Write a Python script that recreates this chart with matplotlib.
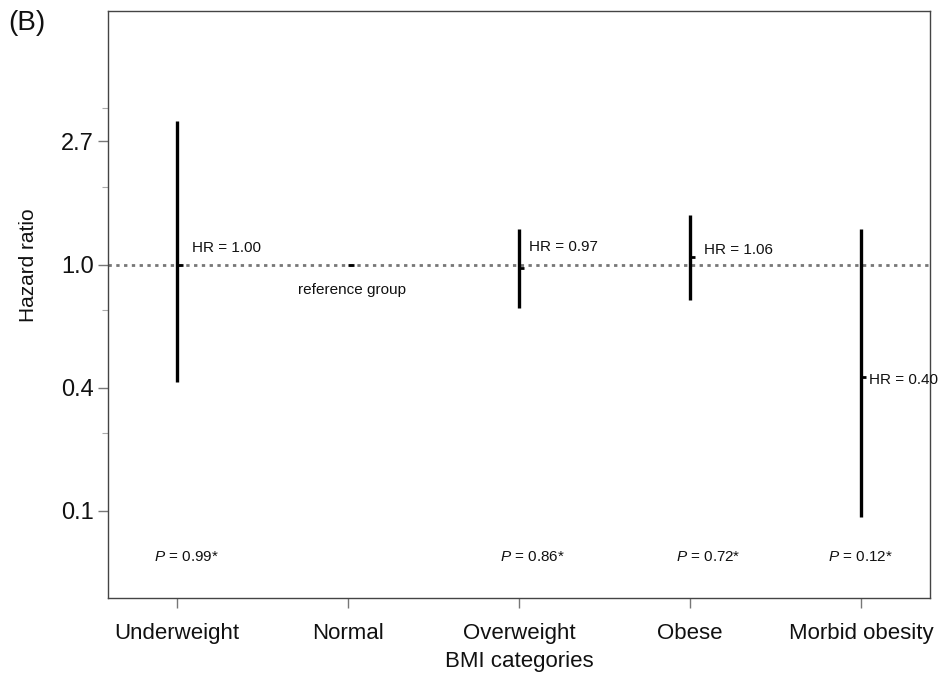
import numpy as np
import matplotlib
matplotlib.use("Agg")
import matplotlib.pyplot as plt
from matplotlib.ticker import FixedLocator, NullFormatter

plt.rcParams["font.family"] = ["Liberation Sans", "DejaVu Sans"]
plt.rcParams["mathtext.fontset"] = "custom"
plt.rcParams["mathtext.it"] = "Liberation Sans:italic"
plt.rcParams["mathtext.rm"] = "Liberation Sans"

# data
categories = ["Underweight", "Normal", "Overweight", "Obese", "Morbid obesity"]
hr = [1.00, 1.00, 0.97, 1.06, 0.40]
ci_low = [0.386, 1.00, 0.703, 0.75, 0.128]
ci_high = [3.20, 1.00, 1.33, 1.49, 1.33]
hr_text = ["HR = 1.00", "reference group", "HR = 0.97", "HR = 1.06", "HR = 0.40"]
p_text = ["0.99*", None, "0.86*", "0.72*", "0.12*"]

# y axis is ln(HR); ticks at e^-2 .. e^1
ytick_vals = np.exp([-2, -1, 0, 1])
ytick_labels = ["0.1", "0.4", "1.0", "2.7"]
yminor_vals = np.exp([-1.37, -0.37, 0.63, 1.27])


def main():
    fig = plt.figure(figsize=(9.4, 6.76), dpi=100)
    ax = fig.add_axes([0.1149, 0.1154, 0.8745, 0.8683])

    x = np.arange(1, len(categories) + 1)

    ax.axhline(1.0, color="#777777", lw=2.0, ls=(0, (1.2, 1.6)), zorder=1)

    ax.vlines(x, ci_low, ci_high, color="black", lw=2.4, zorder=3)
    # small point tick to the right of each bar
    ax.hlines(hr, x, x + 0.032, color="black", lw=2.0, zorder=3)

    # label offsets (points) for the HR annotations
    offs = [(10.8, 12.2, "left"), (3, -18, "center"), (7.2, 15, "left"),
            (10, 5, "left"), (5.8, -2, "left")]
    for xi, h, t, (dx, dy, ha) in zip(x, hr, hr_text, offs):
        ax.annotate(t, xy=(xi, h), xytext=(dx, dy), textcoords="offset points",
                    ha=ha, va="center", fontsize=11, color="#111111")

    p_offs = [6.5, 0, 9.4, 13, -0.7]
    for xi, p, dx in zip(x, p_text, p_offs):
        if p is None:
            continue
        ax.annotate(r"$\it{P}$ = " + p, xy=(xi, 0.07),
                    xycoords=("data", "axes fraction"),
                    xytext=(dx, 0), textcoords="offset points",
                    ha="center", va="center", fontsize=11, color="#111111")

    ax.set_yscale("log")
    ax.set_ylim(np.exp(-2.71), np.exp(2.06))
    ax.set_xlim(0.596, 5.404)
    ax.yaxis.set_major_locator(FixedLocator(ytick_vals))
    ax.set_yticklabels(ytick_labels)
    ax.yaxis.set_minor_locator(FixedLocator(yminor_vals))
    ax.yaxis.set_minor_formatter(NullFormatter())

    ax.set_xticks(x)
    ax.set_xticklabels(categories)

    ax.tick_params(axis="y", which="major", length=7, width=1.0,
                   color="#777777", labelsize=17, pad=3, labelcolor="#111111")
    ax.tick_params(axis="y", which="minor", length=4, width=0.8,
                   color="#aaaaaa")
    ax.tick_params(axis="x", which="major", length=7, width=1.0,
                   color="#777777", labelsize=16, pad=11, labelcolor="#111111")

    for s in ax.spines.values():
        s.set_color("#444444")
        s.set_linewidth(1.0)

    ax.set_xlabel("BMI categories", fontsize=16, color="#111111", labelpad=5)
    ax.set_ylabel("Hazard ratio", fontsize=15, color="#111111")
    ax.yaxis.set_label_coords(-0.085, 0.567)

    fig.text(0.0085, 0.985, "(B)", fontsize=20, va="top", ha="left",
             color="#111111")

    fig.savefig("out.png", dpi=100)


if __name__ == "__main__":
    main()
